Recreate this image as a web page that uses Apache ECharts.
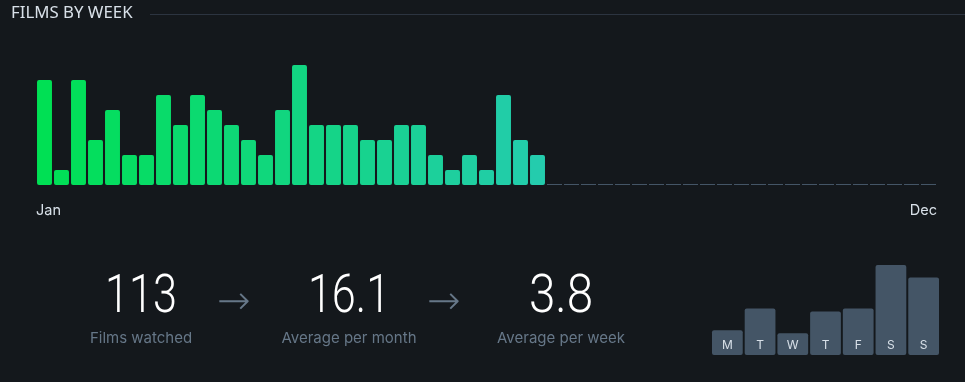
<!DOCTYPE html>
<html><head><meta charset="utf-8">
<script src="https://cdn.jsdelivr.net/npm/echarts@6/dist/echarts.min.js"></script>
<style>html,body{margin:0;padding:0;background:#14181c;}#c{width:965px;height:382px;}</style>
</head><body><div id="c"></div>
<script>
// ---- data ----
const weekNumbers = Array.from({length: 53}, (_, i) => 'W' + (i + 1));
const weeklyFilms = [7,1,7,3,5,2,2,6,4,6,5,4,3,2,5,8,4,4,4,3,3,4,4,2,1,2,1,6,3,2,
  0,0,0,0,0,0,0,0,0,0,0,0,0,0,0,0,0,0,0,0,0,0,0];
const monthLabels = ['Jan', 'Dec'];
const dayLabels = ['M','T','W','T','F','S','S'];
const dayFilms = [8,15,7,14,15,29,25];
const statValues = ['113', '16.1', '3.8'];
const statLabels = ['Films watched', 'Average per month', 'Average per week'];
const titleText = 'FILMS BY WEEK';

// ---- style helpers ----
function mix(t) {
  const a = [0x00, 0xe0, 0x54], b = [0x40, 0xbc, 0xf4];
  const c = a.map((v, i) => Math.round(v + (b[i] - v) * t));
  return 'rgb(' + c.join(',') + ')';
}
const n = weeklyFilms.length;
const filmBars = weeklyFilms.map(v => v > 0 ? v : '-');
const emptyBars = weeklyFilms.map(v => v === 0 ? 0 : '-');

const statX = [141, 349, 561];
const statScale = [0.8, 0.8, 0.88];
const arrowX = [234, 444];
const graphics = [
  {type: 'text', left: 11, top: 5, scaleX: 1.05, style: {text: titleText, fill: '#d8e0e8', font: '400 16px "Noto Sans"'}},
  {type: 'rect', shape: {x: 150, y: 14, width: 815, height: 1}, style: {fill: '#2c3440'}}
];
statValues.forEach((v, i) => {
  graphics.push({type: 'text', x: statX[i], y: 298, scaleX: statScale[i],
    style: {text: v, fill: '#ffffff', font: '300 54px Roboto', textAlign: 'center', textVerticalAlign: 'middle'}});
  graphics.push({type: 'text', x: statX[i], y: 338, style: {text: statLabels[i], fill: '#667788', font: '400 15px Inter', textAlign: 'center', textVerticalAlign: 'middle'}});
});
arrowX.forEach(x => {
  graphics.push({type: 'text', x: x, y: 304, style: {text: '→', fill: '#667788', font: '200 40px "DejaVu Sans"', textAlign: 'center', textVerticalAlign: 'middle'}});
});

const chart = echarts.init(document.getElementById('c'), null, {renderer: 'canvas'});
chart.setOption({
  backgroundColor: '#14181c',
  animation: false,
  graphic: graphics,
  grid: [
    {left: 36, right: 28, top: 65, bottom: 197},
    {left: 711, right: 25, top: 265, bottom: 27}
  ],
  xAxis: [
    {type: 'category', gridIndex: 0, data: weekNumbers, show: false},
    {type: 'value', gridIndex: 0, min: 0, max: n, interval: n, position: 'bottom',
      axisLine: {show: false}, axisTick: {show: false}, splitLine: {show: false},
      axisLabel: {show: true, margin: 18, color: '#d8e0e8', fontSize: 14.5, fontFamily: 'Inter',
        alignMinLabel: 'left', alignMaxLabel: 'right',
        formatter: v => v === 0 ? monthLabels[0] : monthLabels[1]}},
    {type: 'category', gridIndex: 1, data: dayLabels, show: false}
  ],
  yAxis: [
    {type: 'value', gridIndex: 0, min: 0, max: 8, show: false},
    {type: 'value', gridIndex: 1, min: 0, max: 29, show: false}
  ],
  series: [
    {type: 'bar', xAxisIndex: 0, yAxisIndex: 0, data: filmBars, barCategoryGap: '12%',
      itemStyle: {borderRadius: 2, color: p => mix(p.dataIndex / (n - 1))}},
    {type: 'bar', xAxisIndex: 0, yAxisIndex: 0, data: emptyBars, barGap: '-100%', barCategoryGap: '12%',
      barMinHeight: 1, itemStyle: {color: '#445566'}},
    {type: 'bar', xAxisIndex: 2, yAxisIndex: 1, data: dayFilms, barCategoryGap: '6%',
      itemStyle: {color: '#445566', borderRadius: 2},
      label: {show: true, position: 'insideBottom', distance: 4, color: '#d8e0e8', fontSize: 12, fontFamily: 'Inter',
        formatter: p => dayLabels[p.dataIndex]}}
  ]
});
</script></body></html>
